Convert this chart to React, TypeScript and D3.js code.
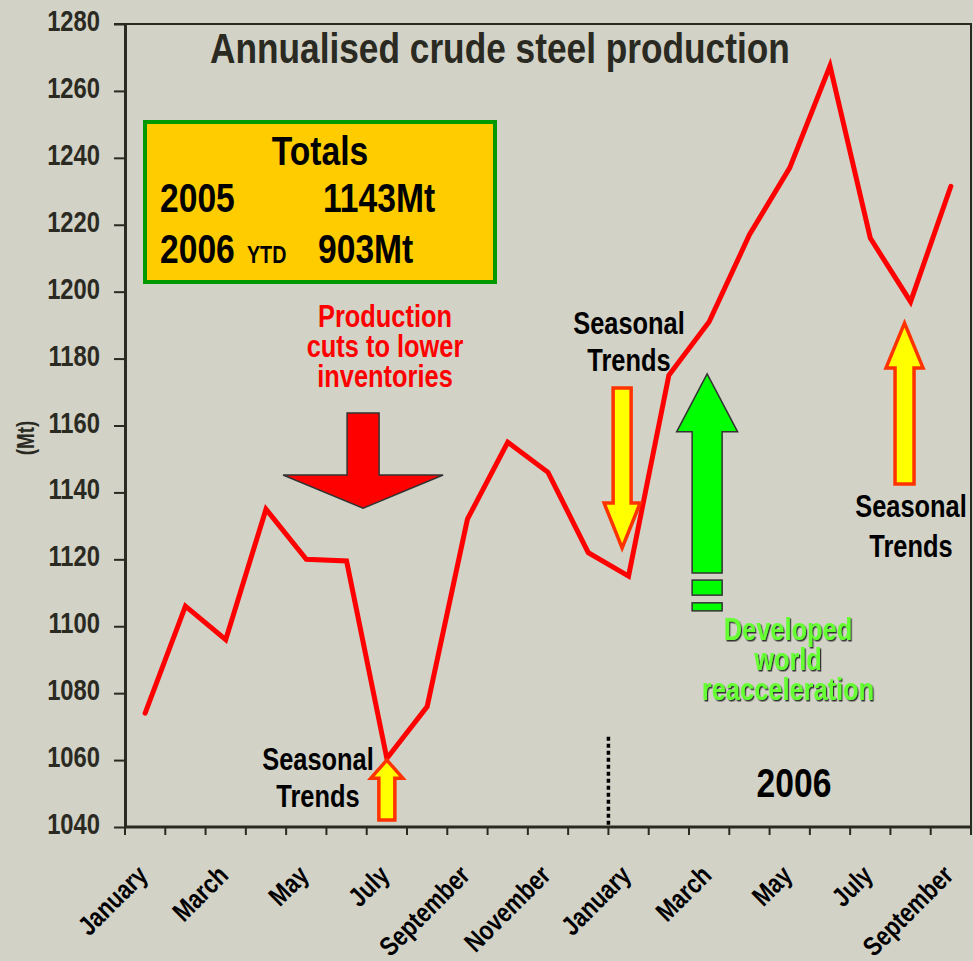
import React, { useEffect, useRef } from 'react';
import * as d3 from 'd3';

// --- DATA ---
const periods = [
  '2005-01', '2005-02', '2005-03', '2005-04', '2005-05', '2005-06', '2005-07',
  '2005-08', '2005-09', '2005-10', '2005-11', '2005-12',
  '2006-01', '2006-02', '2006-03', '2006-04', '2006-05', '2006-06', '2006-07',
  '2006-08', '2006-09',
];
const monthLabels = [
  'January', 'February', 'March', 'April', 'May', 'June', 'July',
  'August', 'September', 'October', 'November', 'December',
  'January', 'February', 'March', 'April', 'May', 'June', 'July',
  'August', 'September',
];
// annualised crude steel production, Mt
const production = [
  1074, 1106, 1096, 1135, 1120, 1119.5, 1060.5, 1076, 1132, 1155, 1146, 1122,
  1115, 1175, 1191, 1217, 1237, 1267.5, 1216, 1197, 1231.5,
];
const yTicks = [1040, 1060, 1080, 1100, 1120, 1140, 1160, 1180, 1200, 1220, 1240, 1260, 1280];

// no Arial Narrow available: squeeze Liberation Sans Bold horizontally
const FONT = "'Liberation Sans', Arial, sans-serif";
const SQUEEZE = 'scale(0.82,1)';
const BG = '#d2d2c7';
const INK = '#2a2a22';

export default function App() {
  const svgRef = useRef<SVGSVGElement>(null);

  useEffect(() => {
    if (!svgRef.current) return;
    const W = 973, H = 961;
    const margin = { top: 24, right: 2, bottom: 134, left: 125 };
    const width = W - margin.left - margin.right;
    const height = H - margin.top - margin.bottom;

    const svg = d3.select(svgRef.current);
    svg.selectAll('*').remove();
    svg.attr('width', W).attr('height', H);

    // hard drop shadow for the green caption
    svg.append('defs')
      .append('filter')
      .attr('id', 'shadow')
      .attr('x', '-5%').attr('y', '-5%').attr('width', '110%').attr('height', '110%')
      .append('feDropShadow')
      .attr('dx', 1.5).attr('dy', 1.5).attr('stdDeviation', 0.3)
      .attr('flood-color', '#333').attr('flood-opacity', 1);

    svg.append('rect').attr('width', W).attr('height', H).attr('fill', BG);

    const chart = svg.append('g').attr('transform', `translate(${margin.left},${margin.top})`);

    const x = d3.scaleBand().domain(periods).range([0, width]).padding(0);
    const y = d3.scaleLinear().domain([1040, 1280]).range([height, 0]);
    // fractional position along the month axis, for annotations
    const u = d3.scaleLinear().domain([0, periods.length]).range([0, width]);
    const xc = (p: string) => (x(p) || 0) + x.bandwidth() / 2;

    const boldText = (parent: d3.Selection<any, any, any, any>, transform: string, size: number, fill: string, anchor = 'start') =>
      parent.append('text')
        .attr('transform', `${transform} ${SQUEEZE}`)
        .attr('text-anchor', anchor)
        .attr('fill', fill)
        .style('font-family', FONT)
        .style('font-weight', 'bold')
        .style('font-size', `${size}px`);

    // frame: top and right edges
    chart.append('path')
      .attr('d', `M${-11},0H${width}V${height + 8}`)
      .attr('fill', 'none')
      .attr('stroke', INK)
      .attr('stroke-width', 2);

    // Y axis
    const yAxis = chart.append('g')
      .call(d3.axisLeft(y).tickValues(yTicks).tickSize(11).tickSizeOuter(0).tickFormat(d3.format('d')));
    yAxis.select('.domain').attr('stroke', INK).attr('stroke-width', 3);
    yAxis.selectAll('.tick line').attr('stroke', INK).attr('stroke-width', 2);
    yAxis.selectAll('.tick text')
      .attr('x', 0)
      .attr('dy', null)
      .attr('transform', `translate(-25,6.5) ${SQUEEZE}`)
      .attr('fill', INK)
      .style('font-family', FONT)
      .style('font-weight', 'bold')
      .style('font-size', '29px');

    // X axis: ticks on month boundaries
    const xAxis = chart.append('g').attr('transform', `translate(0,${height})`);
    xAxis.append('line')
      .attr('x1', 0).attr('x2', width)
      .attr('stroke', INK).attr('stroke-width', 3);
    xAxis.selectAll('line.tk')
      .data(d3.range(periods.length + 1))
      .enter()
      .append('line')
      .attr('class', 'tk')
      .attr('x1', d => u(d)).attr('x2', d => u(d))
      .attr('y1', 0).attr('y2', 8)
      .attr('stroke', INK).attr('stroke-width', 2);
    periods.forEach((p, i) => {
      if (i % 2 !== 0) return;
      boldText(xAxis, `translate(${xc(p) + 4},50) rotate(-45)`, 27, '#000', 'end').text(monthLabels[i]);
    });

    // Y label
    boldText(svg, 'translate(34,438) rotate(-90)', 23, INK, 'middle').text('(Mt)');

    // Title
    boldText(svg, 'translate(210,63)', 43, INK).text('Annualised crude steel production');

    // 2006 divider
    chart.append('line')
      .attr('x1', u(12)).attr('x2', u(12))
      .attr('y1', y(1067)).attr('y2', height)
      .attr('stroke', '#000').attr('stroke-width', 3.5).attr('stroke-dasharray', '4 3');

    // Line
    const line = d3.line<number>()
      .x((_, i) => xc(periods[i]))
      .y(d => y(d));
    chart.append('path')
      .datum(production)
      .attr('d', line)
      .attr('fill', 'none')
      .attr('stroke', '#ff0000')
      .attr('stroke-width', 5)
      .attr('stroke-linejoin', 'miter')
      .attr('stroke-linecap', 'round');

    // --- ARROWS ---
    // vertical block arrow from tail to tip, drawn in data units
    const arrow = (cu: number, tail: number, headBase: number, tip: number, shaftHalf: number, headHalf: number) => {
      const cx = u(cu);
      const yt = y(tail), yb = y(headBase), yp = y(tip);
      return `M${cx - shaftHalf},${yt}L${cx + shaftHalf},${yt}L${cx + shaftHalf},${yb}L${cx + headHalf},${yb}` +
        `L${cx},${yp}L${cx - headHalf},${yb}L${cx - shaftHalf},${yb}Z`;
    };

    // production cuts
    chart.append('path')
      .attr('d', arrow(5.91, 1163.7, 1145.2, 1135.3, 16, 80))
      .attr('fill', '#ff0000').attr('stroke', '#333').attr('stroke-width', 1.5);

    // seasonal arrows
    const seasonal = [
      arrow(6.5, 1042.1, 1054.6, 1060.0, 8, 16),
      arrow(12.34, 1171.2, 1136.8, 1123.4, 9, 18),
      arrow(19.35, 1142.5, 1177.2, 1190.6, 9.5, 18.5),
    ];
    chart.selectAll('path.seasonal')
      .data(seasonal)
      .enter()
      .append('path')
      .attr('class', 'seasonal')
      .attr('d', d => d)
      .attr('fill', '#ffff00').attr('stroke', '#ff3300').attr('stroke-width', 3.5);

    // developed world arrow
    chart.append('path')
      .attr('d', arrow(14.45, 1115.9, 1158.1, 1175.4, 15, 30.5))
      .attr('fill', '#00ff00').attr('stroke', '#333').attr('stroke-width', 1.5);
    [[1113.8, 1109.3], [1107.0, 1104.6]].forEach(([a, b]) => {
      chart.append('rect')
        .attr('x', u(14.45) - 15).attr('width', 30)
        .attr('y', y(a)).attr('height', y(b) - y(a))
        .attr('fill', '#00ff00').attr('stroke', '#333').attr('stroke-width', 1.5);
    });

    // --- TEXT ANNOTATIONS ---
    const textBlock = (cx: number, y0: number, lines: string[], gap: number, size: number, fill: string, shadow = false) => {
      const t = boldText(svg, `translate(${cx},${y0})`, size, fill, 'middle');
      if (shadow) t.attr('filter', 'url(#shadow)');
      lines.forEach((l, i) => {
        t.append('tspan').attr('x', 0).attr('y', i * gap).text(l);
      });
    };

    textBlock(385, 327, ['Production', 'cuts to lower', 'inventories'], 30, 31, '#ff0000');
    textBlock(318, 770, ['Seasonal', 'Trends'], 37, 31, '#000');
    textBlock(629, 334, ['Seasonal', 'Trends'], 37, 31, '#000');
    textBlock(911, 517, ['Seasonal', 'Trends'], 40, 31, '#000');
    textBlock(788, 640, ['Developed', 'world', 'reacceleration'], 30, 31, '#66ff33', true);
    textBlock(794, 797, ['2006'], 0, 41, '#000');

    // Totals box
    const box = svg.append('g');
    box.append('rect')
      .attr('x', 145).attr('y', 122).attr('width', 350).attr('height', 160)
      .attr('fill', '#ffcc00').attr('stroke', '#009900').attr('stroke-width', 4);
    const bt = (tx: number, ty: number, s: string, size: number, anchor = 'start') =>
      boldText(box, `translate(${tx},${ty})`, size, '#000', anchor).text(s);
    bt(320, 165, 'Totals', 41, 'middle');
    bt(160, 212, '2005', 41);
    bt(323, 212, '1143Mt', 41);
    bt(160, 263, '2006', 41);
    bt(247, 263, 'YTD', 24);
    bt(318, 263, '903Mt', 41);
  }, []);

  return (
    <div style={{ position: 'absolute', left: 0, top: 0 }}>
      <svg ref={svgRef}></svg>
    </div>
  );
}
